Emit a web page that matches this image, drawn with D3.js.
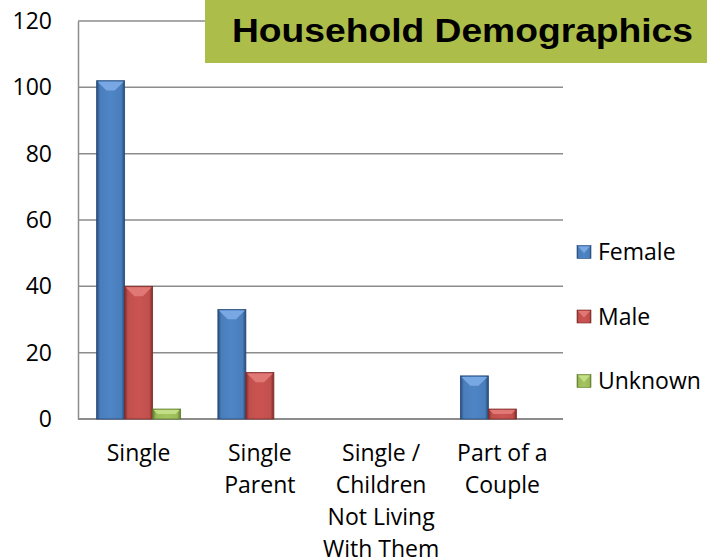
<!DOCTYPE html>
<html lang="en">
<head>
<meta charset="UTF-8">
<title>Household Demographics</title>
<script src="https://d3js.org/d3.v7.min.js"></script>
<style>
  body { margin: 0; background: #fff; }
  text { font-family: "Open Sans", sans-serif; fill: #000; }
</style>
</head>
<body>
<svg width="716" height="558"></svg>
<script>
// chart data
const categories = ["Single", "Single Parent", "Single / Children Not Living With Them", "Part of a Couple"];
const categoryLines = [["Single"], ["Single", "Parent"], ["Single /", "Children", "Not Living", "With Them"], ["Part of a", "Couple"]];
const seriesNames = ["Female", "Male", "Unknown"];
const female = [102, 33, 0, 13];
const male = [40, 14, 0, 3];
const unknown = [3, 0, 0, 0];
const yTicks = [0, 20, 40, 60, 80, 100, 120];

const colors = {
  Female: { mid: "#4a7ebb", light: "#79a7e3", dark: "#254a7a" },
  Male: { mid: "#c0504d", light: "#e07875", dark: "#7e2b29" },
  Unknown: { mid: "#9bbb59", light: "#c3df86", dark: "#5f7a2c" }
};

const svg = d3.select("svg");
const plotLeft = 78, plotRight = 563, plotTop = 21, plotBottom = 419;

const x0 = d3.scaleBand().domain(categories).range([plotLeft, plotRight]).paddingInner(0).paddingOuter(0);
const x1 = d3.scaleBand().domain(seriesNames).range([0, 84]);
const y = d3.scaleLinear().domain([0, 120]).range([plotBottom, plotTop]);

// gradients for bevelled bars
const defs = svg.append("defs");
seriesNames.forEach(s => {
  const g = defs.append("linearGradient").attr("id", "grad-" + s).attr("x1", "0").attr("x2", "1");
  g.append("stop").attr("offset", "0").attr("stop-color", colors[s].dark);
  g.append("stop").attr("offset", "0.12").attr("stop-color", colors[s].mid);
  g.append("stop").attr("offset", "0.5").attr("stop-color", d3.color(colors[s].mid).brighter(0.15));
  g.append("stop").attr("offset", "0.88").attr("stop-color", colors[s].mid);
  g.append("stop").attr("offset", "1").attr("stop-color", colors[s].dark);
});

// gridlines
svg.append("g").selectAll("line").data(yTicks.filter(d => d > 0)).join("line")
  .attr("x1", plotLeft).attr("x2", plotRight)
  .attr("y1", d => y(d)).attr("y2", d => y(d))
  .attr("stroke", "#8c8c8c").attr("stroke-width", 1.5);

// axis
const yAxis = svg.append("g").attr("transform", `translate(${plotLeft},0)`)
  .call(d3.axisLeft(y).tickValues(yTicks).tickSize(0).tickPadding(26));
yAxis.select(".domain").attr("stroke", "#8c8c8c").attr("stroke-width", 1.5);
yAxis.selectAll("text").style("font-size", "23px").style("font-family", "'Open Sans', sans-serif");

svg.append("line").attr("x1", plotLeft).attr("x2", plotRight).attr("y1", plotBottom).attr("y2", plotBottom)
  .attr("stroke", "#8c8c8c").attr("stroke-width", 2);

// bars
const rows = categories.map((c, i) => ({ c, vals: [female[i], male[i], unknown[i]] }));
const group = svg.append("g").selectAll("g").data(rows).join("g")
  .attr("transform", d => `translate(${x0(d.c) + (x0.bandwidth() - x1.range()[1]) / 2},0)`);

const bar = group.selectAll("g").data(d => d.vals.map((v, k) => ({ s: seriesNames[k], v }))
  .filter(d => d.v > 0)).join("g");

bar.append("rect")
  .attr("x", d => x1(d.s)).attr("width", x1.bandwidth())
  .attr("y", d => y(d.v)).attr("height", d => y(0) - y(d.v))
  .attr("fill", d => `url(#grad-${d.s})`)
  .attr("stroke", d => colors[d.s].dark).attr("stroke-width", 0.8);

bar.append("path")
  .attr("d", d => {
    const x = x1(d.s), w = x1.bandwidth(), yt = y(d.v);
    const h = Math.min(w * 0.35, (y(0) - yt) / 2);
    return `M${x + 1},${yt + 1}L${x + w - 1},${yt + 1}L${x + w - h},${yt + h}L${x + h},${yt + h}Z`;
  })
  .attr("fill", d => colors[d.s].light);

// category labels
const labels = svg.append("g").selectAll("text").data(categories).join("text")
  .attr("text-anchor", "middle")
  .attr("x", d => x0(d) + x0.bandwidth() / 2)
  .style("font-size", "23px");
labels.each(function(d, i) {
  d3.select(this).selectAll("tspan").data(categoryLines[i]).join("tspan")
    .attr("x", x0(d) + x0.bandwidth() / 2)
    .attr("y", (t, j) => 461 + j * 32)
    .text(t => t);
});

// legend
const legend = svg.append("g").selectAll("g").data(seriesNames).join("g")
  .attr("transform", (d, i) => `translate(577,${252 + i * 64.5})`);
legend.append("rect").attr("x", 0).attr("y", -6.5).attr("width", 14).attr("height", 13)
  .attr("fill", d => `url(#grad-${d})`).attr("stroke", d => colors[d].dark).attr("stroke-width", 0.6);
legend.append("path").attr("d", "M1,-5.5L13,-5.5L7,1Z").attr("fill", d => colors[d].light);
legend.append("text").attr("x", 21).attr("y", 8).style("font-size", "23px").text(d => d);

// title box
svg.append("rect").attr("x", 205).attr("y", 0).attr("width", 502).attr("height", 63).attr("fill", "#adbd4a");
svg.append("text").attr("x", 462.5).attr("y", 42).attr("text-anchor", "middle")
  .attr("textLength", 461).attr("lengthAdjust", "spacingAndGlyphs")
  .style("font-family", "'Liberation Sans', Arial, sans-serif").style("font-weight", "bold").style("font-size", "34px")
  .text("Household Demographics");
</script>
</body>
</html>
